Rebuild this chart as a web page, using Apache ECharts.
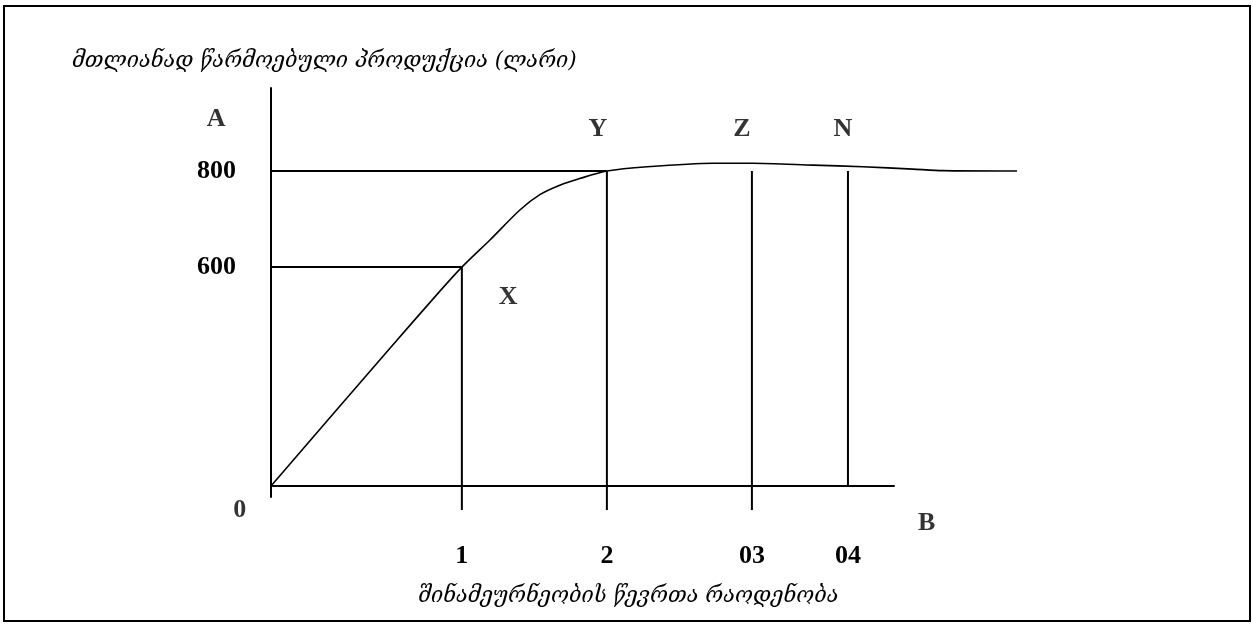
<!DOCTYPE html>
<html>
<head>
<meta charset="utf-8">
<script src="https://cdn.jsdelivr.net/npm/echarts@6/dist/echarts.min.js"></script>
<style>
html, body { margin: 0; padding: 0; background: #fff; }
#chartContainer { width: 1253px; height: 624px; }
</style>
</head>
<body>
<div id="chartContainer"></div>
<script>
// schematic units: x 0..119.6 across the drawing, y 0..~1000
var curveX = [0, 19.07, 27.08, 30.6, 35.1, 39.9, 43.1, 46.3, 49.5, 53.85, 60.3, 70.8, 77.2, 86.9, 94.9, 102.9, 107.7, 119.6];
var curveY = [0, 350, 495, 556, 625, 701, 740, 764, 781, 800, 811, 820, 820, 815, 811, 805, 801, 800];

var xAxisEnd = 100;
var xTickPos = [30.6, 53.85, 77.1, 92.5];
var xTickText = ['1', '2', '03', '04'];
var yTickPos = [556, 800];
var yTickText = ['600', '800'];

// vertical drop lines: top and bottom
var dropTop = [556, 800, 800, 800];
var dropBottom = [-61, -61, -61, 0];

// letters placed on the figure
var markText = ['A', 'B', 'X', 'Y', 'Z', 'N', '0'];
var markX = [-8.8, 105.1, 38.0, 52.4, 75.5, 91.7, -5.0];
var markY = [932, -94, 480, 907, 907, 907, -61];

var yName = 'მთლიანად წარმოებული პროდუქცია (ლარი)';
var xName = 'შინამეურნეობის წევრთა რაოდენობა';

var option = null;

function lineSeries(points, width) {
	return {
		type: 'line',
		data: points,
		symbol: 'none',
		clip: false,
		silent: true,
		lineStyle: { color: '#000', width: width }
	};
}

function initOption() {
	var series = [];
	var curve = curveX.map(function(x, i) { return [x, curveY[i]]; });
	var s = lineSeries(curve, 1.6);
	s.smooth = 0.25;
	series.push(s);

	// x axis line, shorter than the drawing
	series.push(lineSeries([[0, 0], [xAxisEnd, 0]], 2));

	// horizontal guides at 600 and 800
	for (var i = 0; i < yTickPos.length; i++) {
		series.push(lineSeries([[0, yTickPos[i]], [xTickPos[i], yTickPos[i]]], 2));
	}
	// vertical drops
	for (var j = 0; j < xTickPos.length; j++) {
		series.push(lineSeries([[xTickPos[j], dropTop[j]], [xTickPos[j], dropBottom[j]]], 2));
	}

	series.push({
		type: 'scatter',
		symbolSize: 0,
		clip: false,
		silent: true,
		data: markText.map(function(t, i) { return { name: t, value: [markX[i], markY[i]] }; }),
		label: {
			show: true,
			position: 'inside',
			formatter: '{b}',
			color: '#000',
			fontFamily: 'Liberation Serif',
			fontWeight: 'bold',
			fontSize: 26
		}
	});

	var geoFont = { fontFamily: 'DejaVu Serif', fontStyle: 'italic', fontWeight: 'normal', fontSize: 21.5, color: '#000' };

	option = {
		animation: false,
		backgroundColor: '#fff',
		title: [{
			text: yName,
			left: 67,
			top: 45,
			textStyle: geoFont
		}, {
			text: xName,
			left: 413,
			top: 580,
			textStyle: geoFont
		}],
		graphic: [{
			type: 'rect',
			shape: { x: 4, y: 6, width: 1246, height: 615 },
			style: { fill: null, stroke: '#000', lineWidth: 2 }
		}],
		grid: {
			left: 271,
			right: 236,
			top: 88,
			bottom: 127,
			outerBoundsMode: 'none'
		},
		xAxis: {
			type: 'value',
			min: 0,
			max: 119.6,
			splitLine: { show: false },
			axisTick: { show: false },
			axisLine: { show: false },
			axisLabel: {
				customValues: xTickPos,
				margin: 46,
				color: '#000',
				fontFamily: 'Liberation Serif',
				fontWeight: 'bold',
				fontSize: 26,
				formatter: function(v) { return xTickText[xTickPos.indexOf(v)]; }
			}
		},
		yAxis: {
			type: 'value',
			min: -28,
			max: 1011,
			splitLine: { show: false },
			axisTick: { show: false },
			axisLine: { onZero: false, lineStyle: { color: '#000', width: 2 } },
			axisLabel: {
				customValues: yTickPos,
				margin: 35,
				padding: [12, 0, 0, 0],
				color: '#000',
				fontFamily: 'Liberation Serif',
				fontWeight: 'bold',
				fontSize: 26,
				formatter: function(v) { return yTickText[yTickPos.indexOf(v)]; }
			}
		},
		series: series
	};
}

initOption();
var chartContainer = echarts.init(document.getElementById('chartContainer'));
chartContainer.setOption(option);
</script>
</body>
</html>
